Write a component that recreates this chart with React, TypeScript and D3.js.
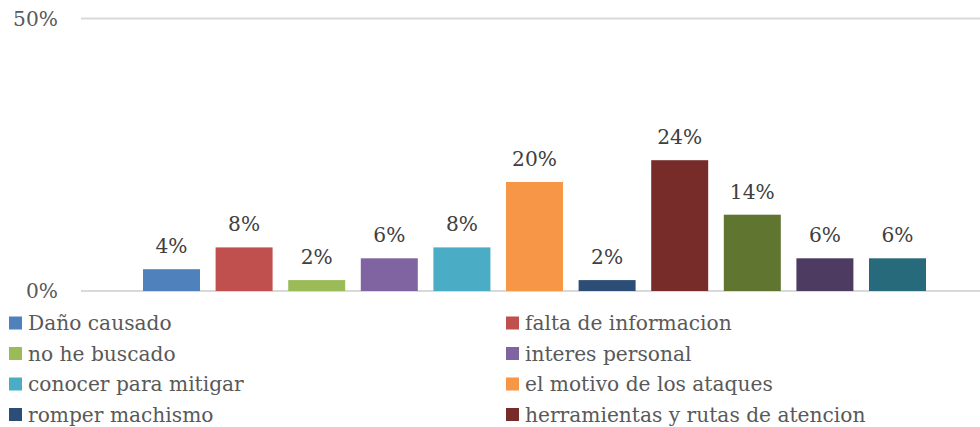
import React from "react";
import * as d3 from "d3";

const categories = [
  "Daño causado",
  "falta de informacion",
  "no he buscado",
  "interes personal",
  "conocer para mitigar",
  "el motivo de los ataques",
  "romper machismo",
  "herramientas y rutas de atencion",
  "c9",
  "c10",
  "c11",
];
// legend labels readable in the picture (the last rows are cut off)
const legendLabels = categories.slice(0, 8);
const values = [4, 8, 2, 6, 8, 20, 2, 24, 14, 6, 6];
const colors = [
  "#4F81BD", "#C0504D", "#9BBB59", "#8064A2", "#4BACC6", "#F79646",
  "#2C4D75", "#772C2A", "#5F7530", "#4D3B62", "#276A7C",
];
const yTicks = [0, 50];

const W = 980;
const H = 427;
const FONT = "'DejaVu Serif', serif";
const FS = 20.2;

export default function App() {
  const x = d3.scaleBand<string>().domain(categories).range([143, 926]).paddingInner(0.215).paddingOuter(0);
  const y = d3.scaleLinear().domain([0, 50]).range([291, 18.5]);

  const legendCol = (i: number) => (i % 2 === 0 ? 9 : 506);
  const legendRow = (i: number) => 323 + Math.floor(i / 2) * 30.5;

  return (
    <svg width={W} height={H} style={{ position: "absolute", left: 0, top: 0 }} fontFamily={FONT}>
      <rect width={W} height={H} fill="#fff" />
      {yTicks.map((t) => (
        <g key={t}>
          <line x1={81} x2={W} y1={y(t)} y2={y(t)} stroke="#d9d9d9" strokeWidth={2} />
          <text x={58} y={y(t)} dy="0.35em" textAnchor="end" fontSize={FS} fill="#595959">
            {t}%
          </text>
        </g>
      ))}
      {categories.map((c, i) => (
        <g key={c}>
          <rect x={x(c)} y={y(values[i])} width={x.bandwidth()} height={y(0) - y(values[i])} fill={colors[i]} />
          <text
            x={(x(c) ?? 0) + x.bandwidth() / 2}
            y={y(values[i]) - 16}
            textAnchor="middle"
            fontSize={FS}
            fill="#404040"
          >
            {values[i]}%
          </text>
        </g>
      ))}
      {legendLabels.map((l, i) => (
        <g key={l} transform={`translate(${legendCol(i)},${legendRow(i)})`}>
          <rect x={0} y={-6.5} width={13} height={13} fill={colors[i]} />
          <text x={19} y={0} dy="0.35em" fontSize={FS} fill="#595959">
            {l}
          </text>
        </g>
      ))}
    </svg>
  );
}
